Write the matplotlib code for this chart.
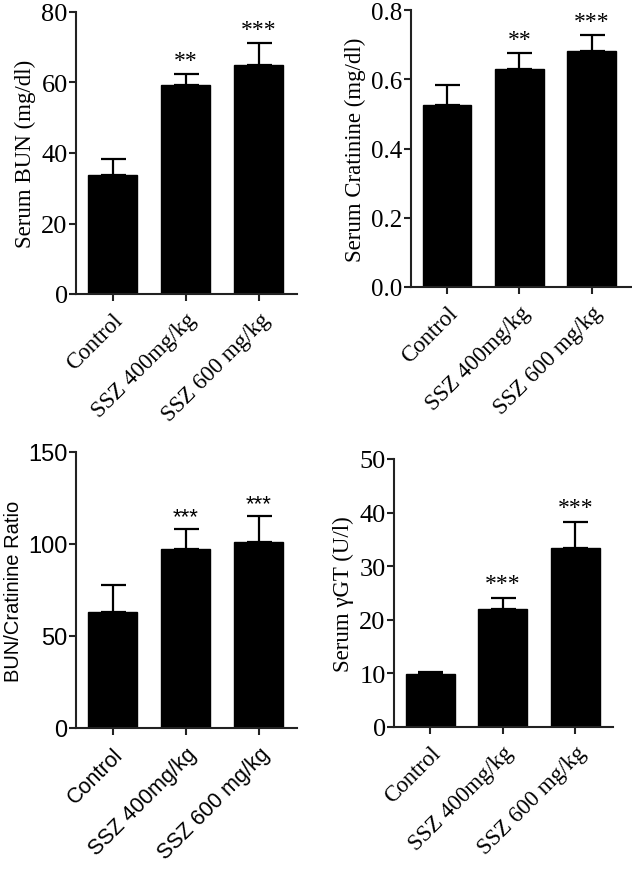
import matplotlib
matplotlib.use('Agg')
import matplotlib.pyplot as plt
import numpy as np

groups = ['Control', 'SSZ 400mg/kg', 'SSZ 600 mg/kg']

bun = [33.8, 59.3, 65.0]
bun_err = [4.5, 3.1, 6.2]
bun_sig = ['', '**', '***']

creat = [0.526, 0.630, 0.682]
creat_err = [0.056, 0.046, 0.046]
creat_sig = ['', '**', '***']

ratio = [63.0, 97.3, 101.0]
ratio_err = [14.7, 10.7, 14.0]
ratio_sig = ['', '***', '***']

ggt = [9.9, 22.0, 33.4]
ggt_err = [0.3, 2.1, 4.8]
ggt_sig = ['', '***', '***']

W, H = 632, 878
fig = plt.figure(figsize=(W / 100, H / 100), dpi=100)


def make_ax(l, r, t, b):
    return fig.add_axes([l / W, 1 - b / H, (r - l) / W, (b - t) / H])


def panel(ax, vals, errs, sig, ymax, ystep, ylabel, font, fmt, star_off,
          tfs=18, lfs=16.5, xfs=16.5, sfs=17, xr=2.52):
    x = np.arange(len(vals))
    ax.bar(x, vals, width=0.67, color='black', edgecolor='black', zorder=2)
    ax.errorbar(x, vals, yerr=[np.zeros(len(errs)), errs], fmt='none',
                ecolor='black', elinewidth=1.6, capsize=9, capthick=1.6, zorder=1)
    for xi, v, e, s in zip(x, vals, errs, sig):
        if s:
            ax.text(xi, v + e + star_off, s, ha='center', va='bottom',
                    fontsize=sfs, family=font)
    ax.set_xlim(-0.5, xr)
    ax.set_ylim(0, ymax)
    ticks = np.arange(0, ymax + ystep / 2, ystep)
    ax.set_yticks(ticks)
    ax.set_yticklabels([fmt.format(v) for v in ticks], family=font, fontsize=tfs)
    ax.set_xticks(x)
    ax.set_xticklabels(groups, rotation=45, ha='right', rotation_mode='anchor',
                       family=font, fontsize=xfs)
    ax.set_ylabel(ylabel, family=font, fontsize=lfs, labelpad=4)
    for sp in ['top', 'right']:
        ax.spines[sp].set_visible(False)
    for sp in ['left', 'bottom']:
        ax.spines[sp].set_linewidth(1.5)
        ax.spines[sp].set_color('#222222')
    ax.tick_params(axis='both', width=1.5, length=5, color='#222222', pad=1)
    ax.tick_params(axis='x', pad=6)


serif = 'Liberation Serif'
sans = 'Liberation Sans'

ax1 = make_ax(76, 297, 13, 295)
panel(ax1, bun, bun_err, bun_sig, 80, 20, 'Serum BUN (mg/dl)', serif, '{:.0f}', 0.8,
      tfs=19)

ax2 = make_ax(411, 632, 11, 288)
panel(ax2, creat, creat_err, creat_sig, 0.8, 0.2, 'Serum Cratinine (mg/dl)', serif,
      '{:.1f}', 0.008, xr=2.56)

ax3 = make_ax(76, 297, 453, 729)
panel(ax3, ratio, ratio_err, ratio_sig, 150, 50, 'BUN/Cratinine Ratio', sans,
      '{:.0f}', 1.2, tfs=17, lfs=14.5, xfs=15.5, sfs=16)

ax4 = make_ax(394, 613, 460, 728)
panel(ax4, ggt, ggt_err, ggt_sig, 50, 10, 'Serum γGT (U/l)', serif, '{:.0f}', 0.8,
      tfs=19)

fig.savefig('out.png', dpi=100)
